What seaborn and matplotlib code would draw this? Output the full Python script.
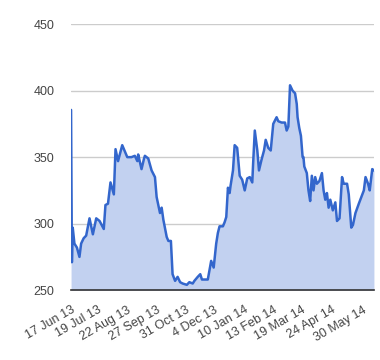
import pandas as pd
import matplotlib
matplotlib.use("Agg")
import matplotlib.pyplot as plt
import seaborn as sns

# Days since 17 Jun 2013 and closing prices
start = "2013-06-17"
days = [0, 1, 2, 4, 7, 10, 12, 15, 18, 22, 26, 30, 34, 39, 41, 44, 47, 51, 53, 56,
        61, 63, 67, 72, 76, 79, 80, 84, 87, 88, 92, 96, 100, 102, 106, 108, 110, 114, 116, 119,
        121, 124, 127, 130, 133, 138, 141, 145, 147, 151, 154, 156, 159, 163, 167, 170, 173, 175, 177, 181,
        183, 185, 187, 189, 190, 193, 195, 198, 201, 204, 207, 210, 213, 216, 217, 219, 222, 224, 227, 230,
        232, 235, 238, 241, 245, 247, 251, 255, 257, 259, 261, 264, 267, 269, 270, 272, 274, 276, 277, 278,
        281, 283, 285, 287, 289, 291, 293, 296, 299, 301, 303, 305, 307, 309, 312, 315, 317, 320, 323, 325,
        329, 331, 334, 336, 339, 343, 346, 349, 351, 354, 356, 359, 361]
prices = [385.5, 271, 297, 285, 282, 275, 285, 289, 291, 304, 292, 304, 302, 296, 314, 315, 331, 322, 356, 347,
          359, 356, 350, 350, 351, 347, 352, 341, 349, 351, 349, 340, 335, 320, 308, 312, 303, 290, 287, 287,
          262, 257, 260, 256, 255, 254, 256, 255, 257, 260, 262, 258, 258, 258, 272, 267, 285, 293, 298, 298,
          301, 305, 327, 323, 328, 340, 359, 357, 336, 333, 325, 334, 335, 331, 345, 370, 355, 340, 348, 355,
          363, 357, 355, 375, 380, 377, 376, 376, 370, 373, 404, 400, 398, 390, 380, 372, 366, 350, 350, 343,
          338, 325, 317, 336, 325, 335, 330, 332, 338, 325, 318, 323, 312, 318, 310, 316, 302, 304, 335, 330,
          330, 322, 297, 299, 308, 315, 320, 325, 335, 330, 325, 341, 340]

tick_dates = ["2013-06-17", "2013-07-19", "2013-08-22", "2013-09-27", "2013-10-31", "2013-12-04",
              "2014-01-10", "2014-02-13", "2014-03-19", "2014-04-24", "2014-05-30"]
tick_labels = ["17 Jun 13", "19 Jul 13", "22 Aug 13", "27 Sep 13", "31 Oct 13", "4 Dec 13",
               "10 Jan 14", "13 Feb 14", "19 Mar 14", "24 Apr 14", "30 May 14"]
y_ticks = [250, 300, 350, 400, 450]

df = pd.DataFrame({"date": pd.to_datetime(start) + pd.to_timedelta(days, unit="D"),
                   "price": prices})

sns.set_style("white")
plt.rcParams["font.family"] = ["Liberation Sans", "DejaVu Sans"]

fig = plt.figure(figsize=(3.8, 3.6), dpi=100)
ax = fig.add_axes([0.187, 0.194, 0.797, 0.739])

# light area under the line, then the line itself
ax.fill_between(df["date"], df["price"], 250, color="#c2d1f0", lw=0)
sns.lineplot(data=df, x="date", y="price", ax=ax, color="#3366cc", lw=1.8)

ax.set_ylim(250, 450)
ax.set_xlim(df["date"].iloc[0], df["date"].iloc[-1])
ax.set_yticks(y_ticks)
ax.set_yticklabels([str(v) for v in y_ticks])
ax.set_xticks(pd.to_datetime(tick_dates))
ax.set_xticklabels(tick_labels, rotation=30, ha="right", rotation_mode="anchor")
ax.tick_params(axis="both", length=0, labelsize=9, labelcolor="#444444")
ax.tick_params(axis="y", pad=12)
ax.tick_params(axis="x", pad=10)
ax.grid(axis="y", color="#cccccc", lw=1)
ax.grid(axis="x", visible=False)
ax.set_xlabel("")
ax.set_ylabel("")
for side in ["top", "right", "left"]:
    ax.spines[side].set_visible(False)
ax.spines["bottom"].set_color("#333333")
ax.spines["bottom"].set_linewidth(1.2)
ax.set_axisbelow(True)

fig.savefig("out.png", dpi=100)
